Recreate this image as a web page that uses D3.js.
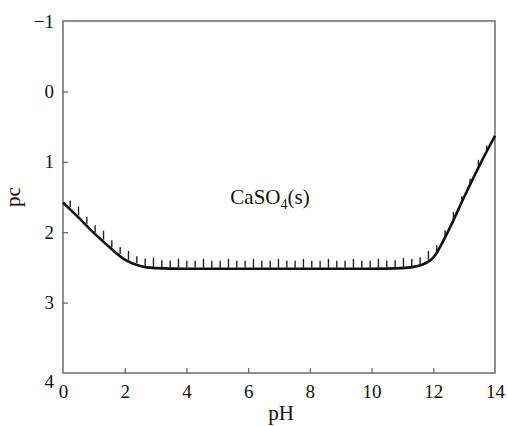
<!DOCTYPE html>
<html>
<head>
<meta charset="utf-8">
<script src="https://cdn.jsdelivr.net/npm/d3@7"></script>
<style>
  body { margin: 0; background: #fff; }
  svg { display: block; }
  svg text { font-family: "Liberation Serif", "Times New Roman", serif; }
</style>
</head>
<body>
<svg width="507" height="426"></svg>
<script>
// solubility curve of CaSO4(s)
const phValues = [0, 0.5, 1, 1.5, 2, 2.5, 3, 4, 6, 8, 10, 11, 11.5, 12, 12.5, 13, 13.5, 14];
const pcValues = [1.58, 1.79, 2.01, 2.21, 2.39, 2.48, 2.51, 2.52, 2.52, 2.52, 2.52, 2.51, 2.48, 2.36, 1.97, 1.5, 1.05, 0.63];
const xTicks = [0, 2, 4, 6, 8, 10, 12, 14];
const yTicks = [-1, 0, 1, 2, 3, 4];
const hatchStep = 0.27;

const svg = d3.select("svg");
const margin = {left: 63, right: 12, top: 21, bottom: 53};
const width = 507, height = 426;

const x = d3.scaleLinear().domain([0, 14]).range([margin.left, width - margin.right]);
const y = d3.scaleLinear().domain([-1, 4]).range([margin.top, height - margin.bottom]);

// frame
svg.append("rect")
    .attr("x", x(0)).attr("y", y(-1))
    .attr("width", x(14) - x(0)).attr("height", y(4) - y(-1))
    .attr("fill", "none").attr("stroke", "#6b6b6b").attr("stroke-width", 1.5);

// bottom axis
const xAxis = svg.append("g")
    .attr("transform", `translate(0,${y(4)})`)
    .call(d3.axisBottom(x).tickValues(xTicks).tickSizeInner(-5).tickSizeOuter(0).tickPadding(12));
xAxis.attr("font-size", 19);
xAxis.select(".domain").remove();
xAxis.selectAll("line").attr("stroke", "#6b6b6b").attr("stroke-width", 1.3);
xAxis.selectAll("text").attr("fill", "#111");
xAxis.selectAll(".tick").filter(d => d === 0 || d === 14).select("line").remove();

// left axis
const yAxis = svg.append("g")
    .attr("transform", `translate(${x(0)},0)`)
    .call(d3.axisLeft(y).tickValues(yTicks).tickSizeInner(-5).tickSizeOuter(0).tickPadding(9)
        .tickFormat(d => d < 0 ? "\u2212" + Math.abs(d) : d));
yAxis.attr("font-size", 19);
yAxis.select(".domain").remove();
yAxis.selectAll("line").attr("stroke", "#6b6b6b").attr("stroke-width", 1.3);
yAxis.selectAll("text").attr("fill", "#111")
    .attr("dy", d => d === 4 ? "0.75em" : "0.32em");
yAxis.selectAll(".tick").filter(d => d === -1 || d === 4).select("line").remove();

// axis titles
svg.append("text")
    .attr("x", (x(0) + x(14)) / 2 + 2).attr("y", 420)
    .attr("text-anchor", "middle").attr("font-size", 21).attr("fill", "#111")
    .text("pH");
svg.append("text")
    .attr("transform", `translate(20,${y(1.5)}) rotate(-90)`)
    .attr("text-anchor", "middle").attr("font-size", 21).attr("fill", "#111")
    .text("pc");

// hatches above the curve
const pcAt = d3.scaleLinear().domain(phValues).range(pcValues);
const hatchPH = d3.range(0.2, 13.95, hatchStep);
svg.append("g")
    .selectAll("line")
    .data(hatchPH)
    .join("line")
    .attr("x1", d => x(d) + 1).attr("x2", d => x(d) + 1)
    .attr("y1", d => y(pcAt(d)) - 1)
    .attr("y2", (d, i) => y(pcAt(d)) - (i % 3 === 1 ? 10 : 8))
    .attr("stroke", "#222").attr("stroke-width", 1.4);

// curve
const line = d3.line()
    .x((d, i) => x(phValues[i]))
    .y(d => y(d))
    .curve(d3.curveMonotoneX);
svg.append("path")
    .datum(pcValues)
    .attr("d", line)
    .attr("fill", "none").attr("stroke", "#111").attr("stroke-width", 2.6);

// label
const lbl = svg.append("text")
    .attr("x", 270).attr("y", 204)
    .attr("text-anchor", "middle").attr("font-size", 21).attr("fill", "#111");
lbl.append("tspan").text("CaSO");
lbl.append("tspan").attr("font-size", 14).attr("dy", 5).text("4");
lbl.append("tspan").attr("dy", -5).text("(s)");
</script>
</body>
</html>
